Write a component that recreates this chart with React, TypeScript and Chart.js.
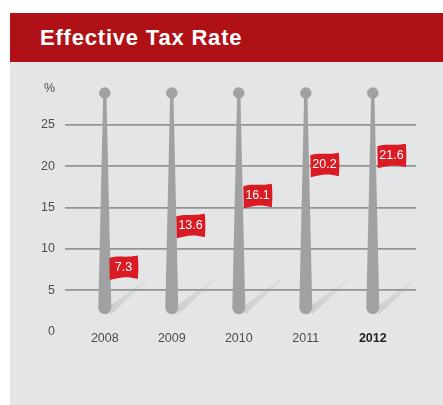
import React, { useEffect, useRef } from "react";
import { Chart, registerables } from "chart.js";

Chart.register(...registerables);

const years = [2008, 2009, 2010, 2011, 2012];
const rates = [7.3, 13.6, 16.1, 20.2, 21.6];
// height on the axis at which each flag is pinned
const flagLevels = [7.8, 12.85, 16.5, 20.25, 21.35];
const yTicks = [0, 5, 10, 15, 20, 25];
const poleRange: [number, number] = [2.1, 28.87];
const unitLabel = "%";
const unitLevel = 29.36;
const title = "Effective Tax Rate";

const POLE = "#a0a1a3";
const FLAG = "#da1b24";
const PANEL = "#e4e5e7";
const FONT = "'Liberation Sans', Arial, sans-serif";

const flagPlugin = {
  id: "flagPoles",
  beforeDraw(chart: any) {
    const ctx = chart.ctx;
    chart.getDatasetMeta(0).data.forEach((el: any) => {
      const x = el.x + 6;
      const b = el.base;
      const g = ctx.createLinearGradient(x, b, x + 48, b - 46);
      g.addColorStop(0, "#cccdcf");
      g.addColorStop(1, PANEL);
      ctx.fillStyle = g;
      ctx.beginPath();
      ctx.moveTo(x, b - 9);
      ctx.lineTo(x + 50, b - 46);
      ctx.lineTo(x, b + 0.5);
      ctx.closePath();
      ctx.fill();
    });
  },
  afterDatasetsDraw(chart: any) {
    const ctx = chart.ctx;
    ctx.save();
    chart.getDatasetMeta(0).data.forEach((el: any) => {
      const top = el.y;
      const r = 6.5;
      const b = el.base - r;
      ctx.fillStyle = POLE;
      ctx.beginPath();
      ctx.moveTo(el.x - 1.6, top);
      ctx.lineTo(el.x + 1.6, top);
      ctx.lineTo(el.x + r, b);
      ctx.arc(el.x, b, r, 0, Math.PI);
      ctx.closePath();
      ctx.fill();
      ctx.beginPath();
      ctx.arc(el.x, top, 5.7, 0, Math.PI * 2);
      ctx.fill();
    });
    chart.getDatasetMeta(1).data.forEach((el: any, i: number) => {
      const l = el.x + 4.5;
      const w = 28.5;
      const h = 22;
      const t = el.y - h / 2;
      ctx.fillStyle = FLAG;
      ctx.beginPath();
      ctx.moveTo(l, t + 2);
      ctx.bezierCurveTo(l + 9, t - 1, l + 15, t + 2, l + w, t - 0.5);
      ctx.bezierCurveTo(l + w + 0.8, t + 8, l + w + 0.8, t + 15, l + w, h + t + 1);
      ctx.bezierCurveTo(l + 16, t + h - 2.5, l + 9, t + h, l + 0.5, t + h + 2);
      ctx.closePath();
      ctx.fill();
      ctx.fillStyle = "#ffffff";
      ctx.font = `12.5px ${FONT}`;
      ctx.textAlign = "center";
      ctx.textBaseline = "middle";
      ctx.fillText(String(rates[i]), l + w / 2, el.y + 0.5);
    });
    ctx.restore();
  },
};

export default function App() {
  const ref = useRef<HTMLCanvasElement>(null);
  useEffect(() => {
    document.body.style.margin = "0";
    const chart = new Chart(ref.current!, {
      type: "bar",
      plugins: [flagPlugin],
      data: {
        datasets: [
          {
            type: "bar",
            label: "Pole",
            data: years.map((x) => ({ x, y: poleRange })),
            backgroundColor: "transparent",
            barThickness: 13,
          },
          {
            type: "line",
            label: "Effective tax rate",
            data: years.map((x, i) => ({ x, y: flagLevels[i] })),
            showLine: false,
            pointRadius: 0,
          },
        ],
      } as any,
      options: {
        animation: false,
        responsive: false,
        devicePixelRatio: 1,
        layout: { padding: { left: 0, right: 27, top: 89, bottom: 0 } },
        plugins: { legend: { display: false }, tooltip: { enabled: false }, title: { display: false } },
        scales: {
          x: {
            type: "linear",
            offset: false,
            min: 2007.406,
            max: 2012.645,
            grid: { display: false },
            border: { display: false },
            afterBuildTicks: (s: any) => {
              s.ticks = years.map((value) => ({ value }));
            },
            afterFit: (s: any) => {
              s.height = 73.5;
            },
            ticks: {
              autoSkip: false,
              maxRotation: 0,
              padding: -8,
              callback: (v: any) => String(v),
              color: (c: any) => (c.tick?.value === 2012 ? "#231f20" : "#4d4d4f"),
              font: (c: any) => ({
                family: FONT,
                size: 12.5,
                weight: c.tick?.value === 2012 ? "bold" : "normal",
              }),
            },
          },
          y: {
            type: "linear",
            min: 0,
            max: unitLevel,
            afterBuildTicks: (s: any) => {
              s.ticks = [...yTicks, unitLevel].map((value) => ({ value }));
            },
            afterFit: (s: any) => {
              s.width = 65;
            },
            border: { display: false },
            grid: {
              drawTicks: false,
              lineWidth: 1.7,
              color: (c: any) =>
                c.tick && c.tick.value > 0 && c.tick.value <= 25 ? "#929497" : "transparent",
            },
            ticks: {
              padding: 10,
              color: "#4d4d4f",
              font: { family: FONT, size: 12.5 },
              callback: (v: any) => (v === unitLevel ? unitLabel : String(v)),
            },
          },
        },
      } as any,
    });
    return () => chart.destroy();
  }, []);

  return (
    <div style={{ position: "absolute", left: 0, top: 0, width: 443, height: 405, overflow: "hidden", background: "#fff" }}>
      <div style={{ position: "absolute", left: 10, top: 62, width: 433, height: 343, background: PANEL }} />
      <div
        style={{
          position: "absolute",
          left: 10,
          top: 13,
          width: 433,
          height: 49,
          background: "#b01116",
          color: "#fff",
          font: `bold 22px ${FONT}`,
          letterSpacing: "0.8px",
          lineHeight: "49px",
          paddingLeft: 30,
          boxSizing: "border-box",
        }}
      >
        {title}
      </div>
      <canvas ref={ref} width={443} height={405} style={{ position: "absolute", left: 0, top: 0 }} />
    </div>
  );
}
